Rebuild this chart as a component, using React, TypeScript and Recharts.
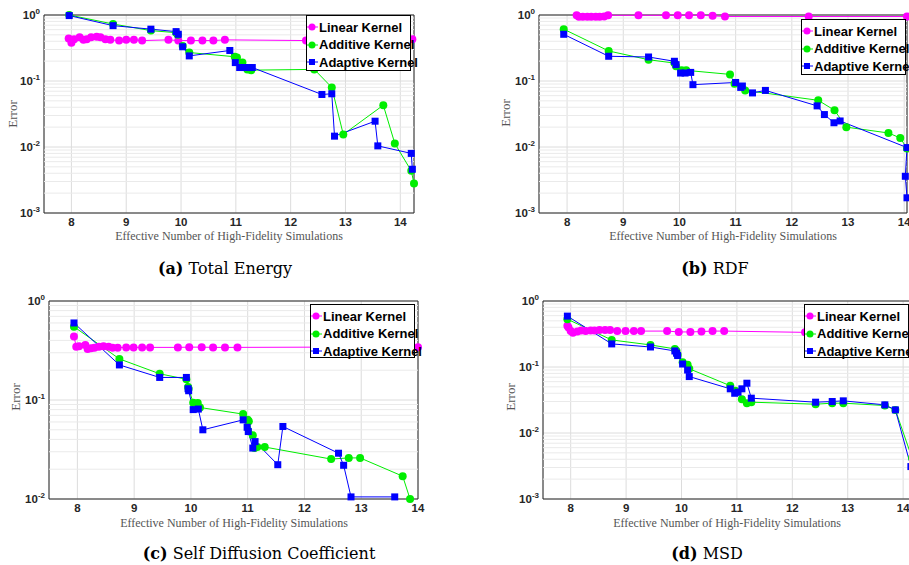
import React from "react";
import { LineChart, Line, XAxis, YAxis, CartesianGrid, ReferenceLine, ReferenceArea } from "recharts";

type Pt = { x: number; y: number };
const pts = (pairs: number[][]): Pt[] => pairs.map(([x, y]) => ({ x, y }));

const xTicks = [8, 9, 10, 11, 12, 13, 14];
const seriesNames = ["Linear Kernel", "Additive Kernel", "Adaptive Kernel"];
const captions = ["Total Energy", "RDF", "Self Diffusion Coefficient", "MSD"];

// (a) Total Energy
const energyLinear = pts([
  [7.95, 0.44], [8.0, 0.38], [8.05, 0.43], [8.15, 0.46], [8.22, 0.42], [8.28, 0.43], [8.36, 0.46],
  [8.46, 0.47], [8.53, 0.46], [8.62, 0.43], [8.71, 0.42], [8.87, 0.41], [9.0, 0.42], [9.14, 0.42],
  [9.29, 0.41], [9.77, 0.42], [9.95, 0.41], [10.18, 0.41], [10.39, 0.41], [10.59, 0.41], [10.8, 0.42],
  [12.28, 0.41], [14.22, 0.43],
]);
const energyAdditive = pts([
  [7.96, 1.0], [8.76, 0.73], [9.45, 0.58], [9.91, 0.54], [9.94, 0.5], [10.03, 0.34], [10.15, 0.27],
  [10.98, 0.233], [11.02, 0.228], [11.12, 0.19], [11.21, 0.15], [11.28, 0.146], [12.43, 0.15],
  [12.75, 0.08], [12.96, 0.0155], [13.69, 0.043], [13.9, 0.0113], [14.2, 0.00435], [14.25, 0.0028],
]);
const energyAdaptive = pts([
  [7.96, 0.98], [8.76, 0.69], [9.45, 0.61], [9.91, 0.56], [9.95, 0.51], [10.03, 0.33], [10.15, 0.24],
  [10.89, 0.29], [10.99, 0.19], [11.07, 0.16], [11.16, 0.16], [11.24, 0.16], [11.3, 0.16],
  [12.57, 0.0625], [12.75, 0.064], [12.8, 0.0146], [13.54, 0.0246], [13.59, 0.0104], [14.2, 0.008],
  [14.22, 0.0046],
]);

// (b) RDF
const rdfLinear = pts([
  [8.17, 0.99], [8.21, 0.94], [8.28, 0.94], [8.36, 0.94], [8.43, 0.94], [8.51, 0.94], [8.58, 0.94],
  [8.66, 0.95], [8.73, 0.99], [9.27, 0.99], [9.76, 0.99], [9.97, 0.99], [10.17, 0.99], [10.38, 0.99],
  [10.59, 0.97], [10.81, 0.95], [12.3, 0.95], [14.05, 0.95],
]);
const rdfAdditive = pts([
  [7.94, 0.61], [8.74, 0.285], [9.45, 0.21], [9.91, 0.187], [9.94, 0.167], [10.04, 0.145],
  [10.12, 0.145], [10.9, 0.126], [10.98, 0.091], [11.17, 0.072], [12.47, 0.051], [12.76, 0.036],
  [12.97, 0.02], [13.72, 0.0163], [13.93, 0.0137], [14.05, 0.0095],
]);
const rdfAdaptive = pts([
  [7.94, 0.51], [8.74, 0.237], [9.45, 0.231], [9.91, 0.199], [9.94, 0.177], [10.02, 0.132],
  [10.1, 0.132], [10.2, 0.135], [10.24, 0.088], [11.0, 0.095], [11.09, 0.08], [11.12, 0.084],
  [11.3, 0.066], [11.53, 0.072], [12.45, 0.042], [12.58, 0.031], [12.75, 0.0233], [12.86, 0.0248],
  [14.05, 0.0098], [14.02, 0.0036], [14.05, 0.0017],
]);

// (c) Self Diffusion Coefficient
const diffLinear = pts([
  [7.94, 0.437], [7.98, 0.346], [8.03, 0.35], [8.14, 0.36], [8.18, 0.328], [8.24, 0.333], [8.3, 0.338],
  [8.38, 0.346], [8.46, 0.35], [8.55, 0.346], [8.62, 0.338], [8.71, 0.338], [8.86, 0.34], [8.99, 0.34],
  [9.14, 0.34], [9.28, 0.34], [9.77, 0.34], [9.97, 0.342], [10.19, 0.342], [10.39, 0.34], [10.6, 0.34],
  [10.82, 0.34], [12.3, 0.342], [14.0, 0.342],
]);
const diffAdditive = pts([
  [7.94, 0.55], [8.74, 0.26], [9.45, 0.184], [9.92, 0.162], [9.95, 0.135], [9.96, 0.13], [10.04, 0.094],
  [10.12, 0.093], [10.16, 0.084], [10.92, 0.072], [11.0, 0.063], [11.02, 0.061], [11.09, 0.044],
  [11.12, 0.0327], [11.17, 0.0335], [11.3, 0.0335], [12.47, 0.0253], [12.78, 0.026], [12.98, 0.026],
  [13.73, 0.017], [13.86, 0.01],
]);
const diffAdaptive = pts([
  [7.94, 0.6], [8.74, 0.226], [9.45, 0.169], [9.92, 0.169], [9.95, 0.13], [9.96, 0.124], [10.04, 0.08],
  [10.13, 0.081], [10.21, 0.05], [10.92, 0.063], [10.99, 0.053], [11.01, 0.048], [11.09, 0.0327],
  [11.13, 0.038], [11.53, 0.0222], [11.62, 0.054], [12.6, 0.029], [12.69, 0.0219], [12.82, 0.0105],
  [13.59, 0.0105],
]);

// (d) MSD
const msdLinear = pts([
  [7.94, 0.42], [7.96, 0.395], [8.0, 0.35], [8.04, 0.33], [8.12, 0.344], [8.19, 0.356], [8.27, 0.35],
  [8.36, 0.356], [8.43, 0.356], [8.52, 0.364], [8.62, 0.364], [8.71, 0.364], [8.84, 0.35], [8.99, 0.35],
  [9.14, 0.35], [9.27, 0.35], [9.74, 0.35], [9.95, 0.34], [10.16, 0.34], [10.36, 0.344], [10.56, 0.35],
  [10.77, 0.35], [12.23, 0.335], [14.16, 0.33],
]);
const msdAdditive = pts([
  [7.94, 0.53], [8.74, 0.257], [9.44, 0.216], [9.88, 0.188], [9.91, 0.175], [9.93, 0.152], [10.02, 0.118],
  [10.11, 0.108], [10.14, 0.094], [10.88, 0.052], [10.97, 0.0435], [11.09, 0.0325], [11.18, 0.0283],
  [11.26, 0.0293], [12.42, 0.0273], [12.72, 0.0283], [12.92, 0.0283], [13.67, 0.0261], [13.86, 0.0224],
  [14.16, 0.0042],
]);
const msdAdaptive = pts([
  [7.94, 0.59], [8.74, 0.224], [9.44, 0.201], [9.88, 0.175], [9.91, 0.162], [9.93, 0.149], [10.02, 0.111],
  [10.11, 0.09], [10.14, 0.0716], [10.88, 0.0467], [10.96, 0.04], [11.02, 0.0415], [11.09, 0.0467],
  [11.18, 0.0568], [11.26, 0.0337], [12.42, 0.0293], [12.72, 0.03], [12.92, 0.0307], [13.67, 0.0267],
  [13.86, 0.0224], [14.14, 0.0031],
]);

const COLORS = ["#ff00ff", "#00ee00", "#0000ff"];
const AXIS = "#262626";
const SANS = "'Liberation Sans', Arial, sans-serif";
const SERIF = "'Liberation Serif', 'Times New Roman', serif";
const Y_AXIS_W = 40;
const X_AXIS_H = 30;

function minorTicks(loExp: number, hiExp: number) {
  const out: number[] = [];
  for (let e = loExp; e < hiExp; e++) for (let m = 2; m <= 9; m++) out.push(m * Math.pow(10, e));
  return out;
}

const PowTick = (props: any) => {
  const { x, y, payload } = props;
  const exp = Math.round(Math.log10(payload.value));
  return (
    <text x={x} y={y} dy={4} textAnchor="end" fontFamily={SANS} fontWeight="bold" fontSize={11.5} fill={AXIS}>
      10
      <tspan dy={-5} fontSize={8}>{exp}</tspan>
    </text>
  );
};

const squareDot = (color: string) => (props: any) => {
  const { cx, cy, index } = props;
  if (cx == null || cy == null) return <g key={`n${index}`} />;
  return <rect key={`s${index}`} x={cx - 3.5} y={cy - 3.5} width={7} height={7} fill={color} />;
};

type PanelProps = {
  left: number;
  top: number;
  width: number;
  plot: { top: number; right: number; bottom: number; left: number };
  xDomain: [number, number];
  yTicks: number[];
  series: Pt[][];
  yLabel: [number, number];
  xLabel: [number, number];
  legend: [number, number, number];
  caption: [number, number];
  letter: string;
  title: string;
};

function LegendBox({ x, y, h }: { x: number; y: number; h: number }) {
  return (
    <div
      style={{
        position: "absolute", left: x, top: y, width: 105, height: h, background: "#fff",
        border: "1px solid #000", boxSizing: "border-box",
      }}
    >
      {seriesNames.map((name, i) => (
        <div
          key={name}
          style={{
            position: "absolute", left: 0, top: 3 + i * 17.5, height: 16, display: "flex",
            alignItems: "center", whiteSpace: "nowrap",
          }}
        >
          <svg width={12} height={12} style={{ display: "block" }}>
            <line x1={0} y1={6} x2={11} y2={6} stroke={COLORS[i]} strokeWidth={1} />
            {i < 2 ? (
              <circle cx={5} cy={6} r={3.5} fill={COLORS[i]} />
            ) : (
              <rect x={2} y={3} width={6} height={6} fill={COLORS[i]} />
            )}
          </svg>
          <span style={{ fontFamily: SANS, fontWeight: "bold", fontSize: 13, color: "#000" }}>{name}</span>
        </div>
      ))}
    </div>
  );
}

function Panel(p: PanelProps) {
  const height = 250;
  const yDomain: [number, number] = [p.yTicks[0], p.yTicks[p.yTicks.length - 1]];
  const minors = minorTicks(Math.round(Math.log10(yDomain[0])), Math.round(Math.log10(yDomain[1])));
  const margin = {
    top: p.plot.top,
    right: p.plot.right,
    left: p.plot.left - Y_AXIS_W,
    bottom: p.plot.bottom - X_AXIS_H,
  };
  return (
    <>
      <div style={{ position: "absolute", left: p.left, top: p.top }}>
        <LineChart width={p.width} height={height} margin={margin}>
          <CartesianGrid stroke="#dcdcdc" strokeWidth={1} />
          {minors.map((v) => (
            <ReferenceLine key={v} y={v} stroke="#eaeaea" strokeWidth={1} />
          ))}
          <XAxis
            dataKey="x"
            type="number"
            domain={p.xDomain}
            ticks={xTicks}
            height={X_AXIS_H}
            axisLine={false}
            tickLine={false}
            tickSize={0}
            tickMargin={5}
            interval={0}
            tick={{ fontFamily: SANS, fontWeight: "bold", fontSize: 11.5, fill: AXIS }}
          />
          <YAxis
            dataKey="y"
            type="number"
            scale="log"
            domain={yDomain}
            ticks={p.yTicks}
            width={Y_AXIS_W}
            axisLine={false}
            tickLine={false}
            tickSize={0}
            tickMargin={4}
            interval={0}
            tick={<PowTick />}
          />
          {p.series.map((data, i) => (
            <Line
              key={i}
              data={data}
              dataKey="y"
              type="linear"
              stroke={COLORS[i]}
              strokeWidth={1}
              dot={i < 2 ? { r: 4, fill: COLORS[i], stroke: "none" } : squareDot(COLORS[i])}
              activeDot={false}
              isAnimationActive={false}
            />
          ))}
          <ReferenceArea
            x1={p.xDomain[0]}
            x2={p.xDomain[1]}
            y1={yDomain[0]}
            y2={yDomain[1]}
            fill="none"
            stroke={AXIS}
            strokeWidth={1}
          />
        </LineChart>
      </div>
      <LegendBox x={p.legend[0]} y={p.legend[1]} h={p.legend[2]} />
      <div
        style={{
          position: "absolute", left: p.yLabel[0], top: p.yLabel[1], transform: "translate(-50%, -50%) rotate(-90deg)",
          fontFamily: SERIF, fontSize: 13, color: "#555", whiteSpace: "nowrap",
        }}
      >
        Error
      </div>
      <div
        style={{
          position: "absolute", left: p.xLabel[0], top: p.xLabel[1], transform: "translate(-50%, -50%)",
          fontFamily: SERIF, fontSize: 12, color: "#555", whiteSpace: "nowrap",
        }}
      >
        Effective Number of High-Fidelity Simulations
      </div>
      <div
        style={{
          position: "absolute", left: p.caption[0], top: p.caption[1], transform: "translate(-50%, -50%)",
          fontFamily: "'DejaVu Serif', serif", fontSize: 16, color: "#000", whiteSpace: "nowrap",
        }}
      >
        <b>({p.letter})</b> {p.title}
      </div>
    </>
  );
}

export default function App() {
  return (
    <div
      style={{
        position: "fixed", left: 0, top: 0, width: 909, height: 565, overflow: "hidden", background: "#fff",
      }}
    >
      <Panel
        left={0} top={0} width={440}
        plot={{ top: 15, left: 44, right: 26, bottom: 37 }}
        xDomain={[7.5, 14.25]} yTicks={[0.001, 0.01, 0.1, 1]}
        series={[energyLinear, energyAdditive, energyAdaptive]}
        yLabel={[13, 114]} xLabel={[229, 236]} legend={[306, 15, 56]} caption={[225, 268]}
        letter="a" title={captions[0]}
      />
      <Panel
        left={454} top={0} width={480}
        plot={{ top: 15, left: 85, right: 27, bottom: 37 }}
        xDomain={[7.5, 14.05]} yTicks={[0.001, 0.01, 0.1, 1]}
        series={[rdfLinear, rdfAdditive, rdfAdaptive]}
        yLabel={[506, 113]} xLabel={[723, 236]} legend={[801, 19, 56]} caption={[715, 268]}
        letter="b" title={captions[1]}
      />
      <Panel
        left={0} top={285} width={440}
        plot={{ top: 16, left: 49, right: 22, bottom: 36 }}
        xDomain={[7.5, 14]} yTicks={[0.01, 0.1, 1]}
        series={[diffLinear, diffAdditive, diffAdaptive]}
        yLabel={[16, 397]} xLabel={[234, 523]} legend={[310, 304, 54]} caption={[259, 553]}
        letter="c" title={captions[2]}
      />
      <Panel
        left={454} top={285} width={480}
        plot={{ top: 16, left: 89, right: 22, bottom: 36 }}
        xDomain={[7.5, 14.16]} yTicks={[0.001, 0.01, 0.1, 1]}
        series={[msdLinear, msdAdditive, msdAdaptive]}
        yLabel={[511, 397]} xLabel={[727, 523]} legend={[804, 304, 54]} caption={[707, 553]}
        letter="d" title={captions[3]}
      />
    </div>
  );
}
